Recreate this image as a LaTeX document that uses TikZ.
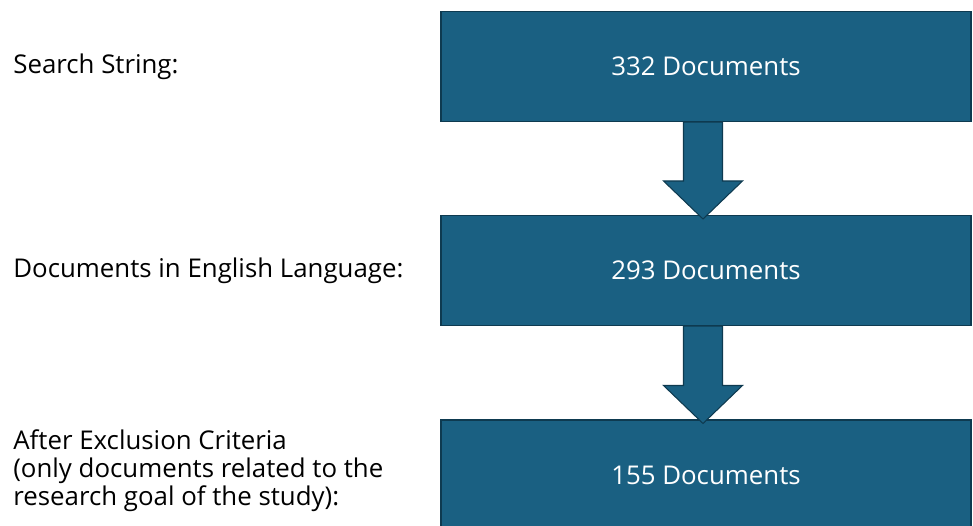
\documentclass[tikz,border=0pt]{standalone}
\usepackage{fontspec}
\setmainfont{Open Sans}
\usetikzlibrary{positioning,calc}

\definecolor{boxblue}{HTML}{1A6082}
\definecolor{boxedge}{HTML}{0E3A50}

\tikzset{
  countbox/.style={draw=boxedge, fill=boxblue, text=white, line width=0.6pt,
    minimum width=10.6cm, minimum height=2.2cm, inner sep=0pt,
    font=\fontsize{14.7}{17}\selectfont},
  stagelabel/.style={anchor=west, inner sep=0pt, align=left,
    font=\fontsize{14.7}{15.9}\selectfont},
  flowarrow/.style={draw=boxedge, fill=boxblue, line width=0.6pt}
}

% block arrow from the bottom of one box to the top of the next
\newcommand{\blockarrow}[2]{
  \draw[flowarrow] ($(#1.south)+(-0.45,0)$) -- ($(#1.south)+(0.33,0)$)
    -- ($(#2.north)+(0.33,0.68)$) -- ($(#2.north)+(0.73,0.68)$)
    -- ($(#2.north)+(-0.06,-0.08)$) -- ($(#2.north)+(-0.85,0.68)$)
    -- ($(#2.north)+(-0.45,0.68)$) -- cycle;
}

\begin{document}
\begin{tikzpicture}
  \useasboundingbox (0,0) rectangle (19.46,-10.5);
  \clip (0,0) rectangle (19.46,-10.5);

  % counts
  \node[countbox] (cnt1) at (14.12,-1.33) {332 Documents};
  \node[countbox] (cnt2) at (14.12,-5.41) {293 Documents};
  \node[countbox] (cnt3) at (14.12,-9.5) {155 Documents};

  % stages
  \node[stagelabel] (lab1) at (0.26,-1.33) {Search String:};
  \node[stagelabel] (lab2) at (0.26,-5.41) {Documents in English Language:};
  \node[stagelabel] (lab3) at (0.26,-9.42) {After Exclusion Criteria\\(only documents related to the\\research goal of the study):};

  \blockarrow{cnt1}{cnt2}
  \blockarrow{cnt2}{cnt3}
\end{tikzpicture}
\end{document}
